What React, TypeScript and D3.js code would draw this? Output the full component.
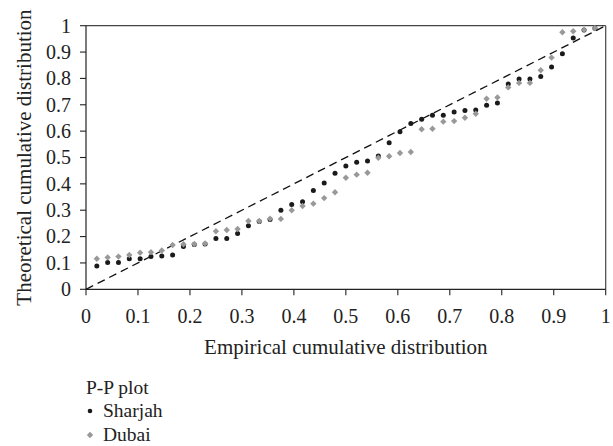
import React from "react";
import * as d3 from "d3";

const sharjah: number[] = [
  0.088, 0.102, 0.102, 0.116, 0.116, 0.124, 0.126, 0.130, 0.162, 0.170,
  0.172, 0.193, 0.193, 0.212, 0.241, 0.257, 0.265, 0.300, 0.322, 0.332,
  0.375, 0.403, 0.440, 0.468, 0.482, 0.487, 0.506, 0.556, 0.598, 0.629,
  0.645, 0.660, 0.660, 0.673, 0.678, 0.680, 0.698, 0.707, 0.779, 0.798,
  0.798, 0.807, 0.843, 0.894, 0.953, 0.984, 0.990,
];
const dubai: number[] = [
  0.116, 0.121, 0.124, 0.130, 0.139, 0.141, 0.147, 0.168, 0.171, 0.172,
  0.174, 0.220, 0.225, 0.229, 0.259, 0.259, 0.268, 0.267, 0.300, 0.316,
  0.325, 0.346, 0.368, 0.423, 0.435, 0.442, 0.499, 0.505, 0.517, 0.521,
  0.607, 0.609, 0.636, 0.638, 0.651, 0.666, 0.723, 0.728, 0.766, 0.783,
  0.783, 0.831, 0.879, 0.975, 0.979, 0.984, 0.991,
];
const ticks: number[] = [0, 0.1, 0.2, 0.3, 0.4, 0.5, 0.6, 0.7, 0.8, 0.9, 1];
const xTitle = "Empirical cumulative distribution";
const yTitle = "Theoretical cumulative distribution";
const legendTitle = "P-P plot";
const seriesNames = ["Sharjah", "Dubai"];

const W = 613;
const H = 446;
const L = 86;
const R = 605.7;
const T = 25.7;
const B = 289.3;
const FONT = "'Liberation Serif', 'DejaVu Serif', serif";

const fmt = (v: number) => (v === 0 || v === 1 ? String(v) : v.toFixed(1));

export default function App() {
  const x = d3.scaleLinear().domain([0, 1]).range([L, R]);
  const y = d3.scaleLinear().domain([0, 1]).range([B, T]);
  const n = sharjah.length;
  const px = (i: number) => x((i + 1) / (n + 1));
  const diamond = d3.symbol().type(d3.symbolDiamond2).size(26)();
  const diag = d3.line<number>().x((d) => x(d)).y((d) => y(d))([0, 1]) as string;

  return (
    <svg
      width={W}
      height={H}
      style={{ position: "absolute", left: 0, top: 0, background: "#fff" }}
      fontFamily={FONT}
    >
      <rect x={0} y={0} width={W} height={H} fill="#fff" />
      {/* frame */}
      <line x1={L} x2={R} y1={T} y2={T} stroke="#444" strokeWidth={1.2} />
      <line x1={R} x2={R} y1={T} y2={B} stroke="#444" strokeWidth={1.2} />
      <line x1={L} x2={L} y1={T} y2={B} stroke="#222" strokeWidth={1.2} />
      <line x1={L} x2={R} y1={B} y2={B} stroke="#222" strokeWidth={1.2} />
      {/* ticks */}
      {ticks.map((t) => (
        <g key={"x" + t}>
          <line x1={x(t)} x2={x(t)} y1={B} y2={B + 6} stroke="#222" strokeWidth={1.1} />
          <text x={x(t)} y={B + 33.5} fontSize={20} textAnchor="middle" fill="#222">
            {fmt(t)}
          </text>
        </g>
      ))}
      {ticks.map((t) => (
        <g key={"y" + t}>
          <line x1={L - 6} x2={L} y1={y(t)} y2={y(t)} stroke="#222" strokeWidth={1.1} />
          <text x={L - 15} y={y(t) + 6.8} fontSize={20} textAnchor="end" fill="#222">
            {fmt(t)}
          </text>
        </g>
      ))}
      {/* diagonal */}
      <path d={diag} stroke="#111" strokeWidth={1.3} strokeDasharray="8,5" fill="none" />
      {/* points */}
      {sharjah.map((v, i) => (
        <circle key={"s" + i} cx={px(i)} cy={y(v)} r={2.5} fill="#1a1a1a" />
      ))}
      {dubai.map((v, i) => (
        <path key={"d" + i} d={diamond} transform={`translate(${px(i)},${y(v)})`} fill="#999" />
      ))}
      {/* titles */}
      <text x={(L + R) / 2} y={354} fontSize={21} textAnchor="middle" fill="#222">
        {xTitle}
      </text>
      <text
        transform={`translate(31,${(T + B) / 2}) rotate(-90)`}
        fontSize={21}
        textAnchor="middle"
        fill="#222"
      >
        {yTitle}
      </text>
      {/* legend */}
      <text x={86} y={394} fontSize={19.5} fill="#222">
        {legendTitle}
      </text>
      <circle cx={90} cy={411} r={2.3} fill="#1a1a1a" />
      <text x={103} y={417} fontSize={19.5} fill="#222">
        {seriesNames[0]}
      </text>
      <path d={diamond} transform="translate(90,435)" fill="#999" />
      <text x={103} y={441} fontSize={19.5} fill="#222">
        {seriesNames[1]}
      </text>
    </svg>
  );
}
